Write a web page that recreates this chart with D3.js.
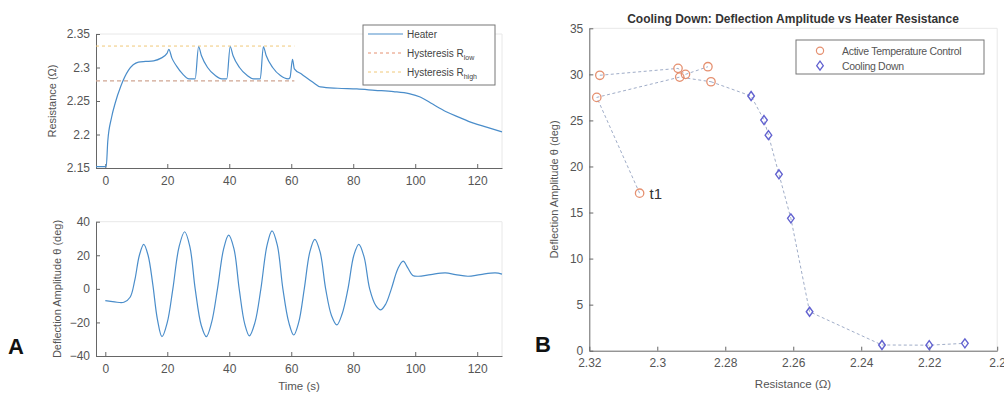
<!DOCTYPE html>
<html><head><meta charset="utf-8">
<script src="https://cdn.jsdelivr.net/npm/d3@7"></script>
<style>
body{margin:0;background:#fff;}
svg{display:block;font-family:"Liberation Sans",Arial,sans-serif;}
.axis text{fill:#555;font-size:12px;}
.axis path,.axis line{stroke:#666;}
</style></head><body>
<svg id="c" width="1004" height="394"></svg>
<script>
// ---------- Panel A (top): heater resistance ----------
const heaterT = [-3,0,0.3,0.8,2,3.2,5,7.5,9,10.7,13,15.6,18,19.9,20.5,21.5,23,25,27,29,30.1,31,33,35.5,37.6,39.2,40.3,41.2,43.3,45.8,47.8,50,51,51.9,54,56.5,59,59.6,60.4,61,63.4,67,69.4,75,81.2,87,93,98,101.6,105,110,114,118.8,123,128];
const heaterR = [2.152,2.152,2.152,2.19,2.225,2.247,2.272,2.296,2.304,2.308,2.309,2.310,2.314,2.321,2.327,2.314,2.302,2.29,2.283,2.283,2.331,2.318,2.300,2.288,2.283,2.283,2.331,2.318,2.300,2.288,2.283,2.283,2.331,2.318,2.300,2.288,2.283,2.285,2.312,2.298,2.290,2.278,2.271,2.269,2.268,2.266,2.264,2.261,2.256,2.247,2.234,2.226,2.217,2.211,2.204];
const hystLowR = 2.28, hystHighR = 2.332, hystSpan = [-3, 61];
const timeTicks = [0,20,40,60,80,100,120];
const resTicks = [2.15,2.2,2.25,2.3,2.35];
const legendA = ["Heater","Hysteresis R","Hysteresis R"];
const legendASub = ["","low","high"];

// ---------- Panel A (bottom): deflection ----------
const defT = [0,3,6,8,9.5,11,12.4,13.8,15.3,16.8,18.3,20,21.8,23.8,25.6,27.3,29,31,32.6,34.3,36.2,38.2,39.8,41.5,43.2,45,46.5,48.3,50.2,52.2,53.8,55.5,57.3,59.2,60.8,62.4,64.2,66,67.6,69.3,71.1,73,74.7,76.4,78.3,80.2,81.8,83.5,85.3,87.3,88.9,90.5,92.3,94.4,96.1,97.6,99.2,101,105,109.7,113,117,121,125.8,128];
const defTheta = [-7,-7.8,-8,-5,5,20,26.5,20,3,-18,-28.5,-20,0,25,34,25,0,-22,-28.5,-20,0,24,32,24,0,-21,-28,-20,0,26,34.5,26,0,-20,-27.5,-20,0,22,29.5,22,0,-16,-21.5,-15,0,20,26.5,19,0,-10,-12.5,-9,0,12,16.5,12.5,8,7.5,8.5,9.5,8.5,7.5,8.5,9.5,8.8];
const defTicks = [-40,-20,0,20,40];

// ---------- Panel B ----------
const bTitle = "Cooling Down: Deflection Amplitude vs Heater Resistance";
const activeR = [2.3052,2.3178,2.3169,2.2939,2.2934,2.2917,2.2851,2.2842];
const activeTheta = [17.1,27.5,29.9,30.65,29.7,30.0,30.83,29.2];
const coolR = [2.2724,2.2686,2.2673,2.2642,2.2607,2.2552,2.2339,2.2200,2.2095];
const coolTheta = [27.65,25.04,23.4,19.15,14.37,4.23,0.62,0.6,0.8];
// connecting dashed paths (index into activeR / coolR)
const pathActive1 = [0,1,4,7];
const pathActive2 = [2,3,5,6];
const bxTicks = [2.32,2.3,2.28,2.26,2.24,2.22,2.2];
const byTicks = [0,5,10,15,20,25,30,35];
const legendB = ["Active Temperature Control","Cooling Down"];

const svg = d3.select("#c");
const blue = "#4a8dca", orange = "#e59070", yellow = "#f0c878";

function faintBox(x0,x1,y0,y1){
  svg.append("path").attr("d",`M${x0},${y0}H${x1}V${y1}`).attr("fill","none").attr("stroke","#e8e8e8");
}

// ===== Top-left =====
const xA = d3.scaleLinear().domain([-3,128]).range([96,502]);
const yR = d3.scaleLinear().domain([2.15,2.35]).range([168,34]);
faintBox(96,502,34,168);
svg.append("g").attr("class","axis").attr("transform","translate(0,168)")
  .call(d3.axisBottom(xA).tickValues(timeTicks).tickSize(-4).tickSizeOuter(0).tickPadding(8));
svg.append("g").attr("class","axis").attr("transform","translate(96,0)")
  .call(d3.axisLeft(yR).tickValues(resTicks).tickSize(-4).tickSizeOuter(0).tickPadding(6).tickFormat(d=>String(+d.toFixed(2))));
svg.append("line").attr("x1",xA(hystSpan[0])).attr("x2",xA(hystSpan[1])).attr("y1",yR(hystHighR)).attr("y2",yR(hystHighR))
  .attr("stroke",yellow).attr("stroke-width",1).attr("stroke-dasharray","3,3");
svg.append("line").attr("x1",xA(hystSpan[0])).attr("x2",xA(hystSpan[1])).attr("y1",yR(hystLowR)).attr("y2",yR(hystLowR))
  .attr("stroke","#cfa592").attr("stroke-width",1.1).attr("stroke-dasharray","4,3");
svg.append("path").datum(heaterT.map((t,i)=>[t,heaterR[i]]))
  .attr("d",d3.line().x(d=>xA(d[0])).y(d=>yR(d[1])).curve(d3.curveMonotoneX))
  .attr("fill","none").attr("stroke",blue).attr("stroke-width",1.2);
svg.append("text").attr("transform","translate(56,101) rotate(-90)").attr("text-anchor","middle")
  .attr("fill","#555").attr("font-size",11).text("Resistance (Ω)");
// legend A
svg.append("rect").attr("x",363).attr("y",25).attr("width",132).attr("height",60).attr("fill","#fff").attr("stroke","#777");
const lgA = [{c:blue,d:null,w:1.2},{c:orange,d:"3,3",w:1},{c:yellow,d:"3,3",w:1}];
legendA.forEach((s,i)=>{
  const y = 34 + i*19;
  svg.append("line").attr("x1",368).attr("x2",403).attr("y1",y).attr("y2",y)
    .attr("stroke",lgA[i].c).attr("stroke-width",lgA[i].w).attr("stroke-dasharray",lgA[i].d);
  const t = svg.append("text").attr("x",407).attr("y",y+3.5).attr("fill","#444").attr("font-size",10).text(s);
  if (legendASub[i]) t.append("tspan").attr("font-size",7).attr("dy",3).text(legendASub[i]);
});

// ===== Bottom-left =====
const yD = d3.scaleLinear().domain([-40,40]).range([356,221.7]);
faintBox(96,502,221.7,356);
svg.append("g").attr("class","axis").attr("transform","translate(0,356)")
  .call(d3.axisBottom(xA).tickValues(timeTicks).tickSize(-4).tickSizeOuter(0).tickPadding(8));
svg.append("g").attr("class","axis").attr("transform","translate(96,0)")
  .call(d3.axisLeft(yD).tickValues(defTicks).tickSize(-4).tickSizeOuter(0).tickPadding(6));
svg.append("path").datum(defT.map((t,i)=>[t,defTheta[i]]))
  .attr("d",d3.line().x(d=>xA(d[0])).y(d=>yD(d[1])).curve(d3.curveCatmullRom))
  .attr("fill","none").attr("stroke",blue).attr("stroke-width",1.2);
svg.append("text").attr("transform","translate(61,289) rotate(-90)").attr("text-anchor","middle")
  .attr("fill","#555").attr("font-size",11).text("Deflection Amplitude θ (deg)");
svg.append("text").attr("x",299).attr("y",390).attr("text-anchor","middle").attr("fill","#555").attr("font-size",11.5).text("Time (s)");
svg.append("text").attr("x",8).attr("y",354).attr("font-size",22).attr("font-weight","bold").attr("fill","#111").text("A");

// ===== Panel B =====
const xB = d3.scaleLinear().domain([2.32,2.20]).range([589.3,997.2]);
const yB = d3.scaleLinear().domain([0,35]).range([350.7,28.3]);
faintBox(589.3,997.2,28.3,350.7);
svg.append("g").attr("class","axis").attr("transform","translate(0,350.7)")
  .call(d3.axisBottom(xB).tickValues(bxTicks).tickSize(-4).tickSizeOuter(0).tickPadding(8).tickFormat(d=>String(+d.toFixed(2))));
svg.append("g").attr("class","axis").attr("transform","translate(589.3,0)")
  .call(d3.axisLeft(yB).tickValues(byTicks).tickSize(-4).tickSizeOuter(0).tickPadding(6));
const lineB = d3.line().x(d=>xB(d[0])).y(d=>yB(d[1]));
const dashCol = "#a0adc8";
function idxPts(idx){ return idx.map(i=>[activeR[i],activeTheta[i]]); }
svg.append("path").datum(idxPts(pathActive1)).attr("d",lineB).attr("fill","none").attr("stroke",dashCol).attr("stroke-dasharray","3,2.5");
svg.append("path").datum(idxPts(pathActive2)).attr("d",lineB).attr("fill","none").attr("stroke",dashCol).attr("stroke-dasharray","3,2.5");
const coolPts = [[activeR[7],activeTheta[7]]].concat(coolR.map((r,i)=>[r,coolTheta[i]]));
svg.append("path").datum(coolPts).attr("d",lineB).attr("fill","none").attr("stroke",dashCol).attr("stroke-dasharray","3,2.5");
activeR.forEach((r,i)=>{
  svg.append("circle").attr("cx",xB(r)).attr("cy",yB(activeTheta[i])).attr("r",4.2)
    .attr("fill","none").attr("stroke",orange).attr("stroke-width",1.3);
});
const diamond = (x,y)=>`M${x},${y-4.5}L${x+3.3},${y}L${x},${y+4.5}L${x-3.3},${y}Z`;
coolR.forEach((r,i)=>{
  svg.append("path").attr("d",diamond(xB(r),yB(coolTheta[i]))).attr("fill","none").attr("stroke","#6262d0").attr("stroke-width",1.4);
});
svg.append("text").attr("x",xB(activeR[0])+10).attr("y",yB(activeTheta[0])+6).attr("font-size",15).attr("fill","#333").text("t1");
svg.append("text").attr("x",793).attr("y",23).attr("text-anchor","middle").attr("font-size",12).attr("font-weight","bold").attr("fill","#333").text(bTitle);
svg.append("text").attr("transform","translate(558,189.5) rotate(-90)").attr("text-anchor","middle")
  .attr("fill","#555").attr("font-size",11).text("Deflection Amplitude θ  (deg)");
svg.append("text").attr("x",793).attr("y",388).attr("text-anchor","middle").attr("fill","#555").attr("font-size",11.5).text("Resistance (Ω)");
svg.append("text").attr("x",535).attr("y",352).attr("font-size",22).attr("font-weight","bold").attr("fill","#111").text("B");
// legend B
svg.append("rect").attr("x",796).attr("y",40).attr("width",188).attr("height",34).attr("fill","#fff").attr("stroke","#777");
svg.append("circle").attr("cx",820).attr("cy",50.7).attr("r",3.6).attr("fill","none").attr("stroke",orange).attr("stroke-width",1.2);
svg.append("path").attr("d",diamond(820,65.7)).attr("fill","none").attr("stroke","#6262d0").attr("stroke-width",1.3);
legendB.forEach((s,i)=>{
  svg.append("text").attr("x",842).attr("y",54.5+i*15).attr("font-size",10.5).attr("fill","#555").attr("letter-spacing","-0.3").text(s);
});
</script></body></html>
